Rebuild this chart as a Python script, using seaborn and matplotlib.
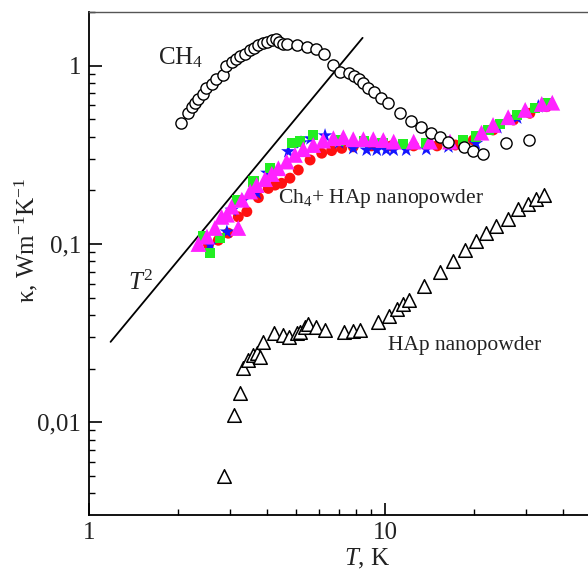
import numpy as np
import matplotlib
matplotlib.use("Agg")
import matplotlib.pyplot as plt
from matplotlib.ticker import FixedLocator, FuncFormatter, LogLocator, NullFormatter
import seaborn as sns

# CH4 (open circles)
t_ch4 = [2.04, 2.15, 2.22, 2.28, 2.34, 2.42, 2.49, 2.59, 2.68, 2.83,
         2.89, 3.03, 3.13, 3.23, 3.36, 3.49, 3.61, 3.73, 3.86, 3.98,
         4.14, 4.28, 4.39, 4.51, 4.65, 5.03, 5.44, 5.83, 6.23, 6.69,
         7.04, 7.57, 7.86, 8.19, 8.45, 8.78, 9.18, 9.69, 10.2, 11.2,
         12.2, 13.2, 14.3, 15.3, 16.3, 18.5, 19.9, 21.4, 25.6, 30.8]
k_ch4 = [0.479, 0.545, 0.589, 0.620, 0.648, 0.691, 0.747, 0.787, 0.839, 0.887,
         0.996, 1.05, 1.09, 1.13, 1.17, 1.22, 1.26, 1.30, 1.34, 1.36,
         1.39, 1.41, 1.35, 1.32, 1.32, 1.31, 1.28, 1.24, 1.16, 1.01,
         0.925, 0.913, 0.876, 0.839, 0.797, 0.753, 0.709, 0.656, 0.615, 0.545,
         0.492, 0.451, 0.418, 0.397, 0.372, 0.351, 0.334, 0.320, 0.367, 0.383]

# HAp nanopowder (open triangles)
t_hap = [2.86, 3.09, 3.24, 3.32, 3.43, 3.59, 3.68, 3.78, 3.88, 4.21,
         4.53, 4.73, 5.03, 5.16, 5.36, 5.50, 5.84, 6.27, 7.28, 7.78,
         8.23, 9.49, 10.3, 11.0, 11.5, 12.1, 13.5, 15.3, 17.0, 18.7,
         20.3, 21.9, 23.7, 26.0, 28.2, 30.5, 32.4, 34.6]
k_hap = [0.0050, 0.0110, 0.0147, 0.0201, 0.0224, 0.0238, 0.0246, 0.0232, 0.0282, 0.0316,
         0.0309, 0.0300, 0.0318, 0.0322, 0.0344, 0.0355, 0.0344, 0.0330, 0.0322, 0.0327,
         0.0330, 0.0367, 0.0396, 0.0430, 0.0459, 0.0485, 0.0581, 0.0699, 0.0806, 0.0925,
         0.104, 0.115, 0.126, 0.138, 0.157, 0.168, 0.178, 0.188]

# CH4 + HAp nanopowder, four runs
t_red = [2.53, 2.73, 2.95, 3.19, 3.41, 3.73, 4.03, 4.25, 4.47, 4.77,
         5.09, 5.58, 6.11, 6.60, 7.14, 7.81, 9.0, 10.5, 12.5, 15.0,
         17.3, 19.9, 23.2, 27.2, 30.9, 35.2]
k_red = [0.099, 0.105, 0.115, 0.142, 0.152, 0.182, 0.205, 0.214, 0.219, 0.234,
         0.260, 0.296, 0.323, 0.334, 0.344, 0.351, 0.355, 0.355, 0.355, 0.355,
         0.359, 0.383, 0.436, 0.496, 0.541, 0.589]

t_blue = [2.56, 2.92, 3.03, 3.30, 3.68, 4.00, 4.71, 5.20, 5.60, 6.27,
          7.00, 7.81, 8.67, 9.38, 10.1, 10.7, 11.8, 13.8, 16.4, 20.3,
          24.0, 28.0, 33.0]
k_blue = [0.099, 0.117, 0.155, 0.175, 0.193, 0.25, 0.330, 0.37, 0.39, 0.405,
          0.37, 0.344, 0.337, 0.337, 0.337, 0.337, 0.337, 0.340, 0.351, 0.367,
          0.45, 0.51, 0.59]

t_green = [2.43, 2.56, 2.77, 3.15, 3.59, 4.08, 4.84, 5.16, 5.72, 7.0,
           8.5, 9.8, 11.5, 13.8, 18.4, 20.3, 22.4, 24.5, 27.9, 32.2, 35.2]
k_green = [0.110, 0.089, 0.108, 0.177, 0.224, 0.266, 0.367, 0.375, 0.409, 0.38,
           0.375, 0.37, 0.364, 0.367, 0.383, 0.400, 0.436, 0.471, 0.529, 0.577, 0.615]

t_mag = [2.34, 2.50, 2.66, 2.80, 2.92, 3.03, 3.19, 3.28, 3.50, 3.68,
         3.93, 4.14, 4.36, 4.65, 4.96, 5.29, 5.72, 6.18, 6.69, 7.23,
         7.81, 8.45, 9.13, 9.87, 10.7, 12.5, 14.2, 16.6, 21.2, 23.2,
         26.1, 29.8, 33.9, 36.8]
k_mag = [0.100, 0.110, 0.123, 0.142, 0.146, 0.162, 0.123, 0.177, 0.197, 0.214,
         0.231, 0.247, 0.266, 0.290, 0.316, 0.340, 0.359, 0.380, 0.392, 0.397,
         0.387, 0.387, 0.387, 0.383, 0.375, 0.375, 0.375, 0.375, 0.421, 0.465,
         0.514, 0.565, 0.610, 0.620]

# T^2 guide line
t_line = np.array([1.18, 8.4])
k_line = 0.0203 * t_line ** 2

sns.set_style("ticks")
plt.rcParams['font.family'] = ['Liberation Serif', 'DejaVu Serif']
plt.rcParams['mathtext.fontset'] = 'custom'
plt.rcParams['mathtext.rm'] = 'Liberation Serif'
plt.rcParams['mathtext.it'] = 'Liberation Serif:italic'

fig = plt.figure(figsize=(5.88, 5.71), dpi=100)
ax = fig.add_axes([0.1519, 0.0975, 0.8481, 0.8815])

ax.plot(t_line, k_line, color='black', lw=1.3, zorder=2)

sns.scatterplot(x=t_red, y=k_red, ax=ax, marker='o', s=62, color='#ff1010',
                edgecolor='none', zorder=3)
sns.scatterplot(x=t_blue, y=k_blue, ax=ax, marker='*', s=120, color='#1515ff',
                edgecolor='none', zorder=4)
sns.scatterplot(x=t_green, y=k_green, ax=ax, marker='s', s=55, color='#22ee22',
                edgecolor='none', zorder=5)
sns.scatterplot(x=t_mag, y=k_mag, ax=ax, marker='^', s=130, color='#ff22ff',
                edgecolor='none', zorder=6)
sns.scatterplot(x=t_ch4, y=k_ch4, ax=ax, marker='o', s=65, facecolor='white',
                edgecolor='black', linewidth=1.0, zorder=7)
sns.scatterplot(x=t_hap, y=k_hap, ax=ax, marker='^', s=95, facecolor='white',
                edgecolor='black', linewidth=1.1, zorder=7)

ax.set_xscale('log')
ax.set_yscale('log')
ax.set_xlim(1, 48.6)
ax.set_ylim(0.00301, 2.0)

ax.xaxis.set_major_locator(FixedLocator([1, 10]))
ax.xaxis.set_major_formatter(FuncFormatter(lambda v, p: f"{v:g}"))
ax.xaxis.set_minor_locator(LogLocator(base=10, subs=np.arange(2, 10)))
ax.xaxis.set_minor_formatter(NullFormatter())
ax.yaxis.set_major_locator(FixedLocator([0.01, 0.1, 1]))
ax.yaxis.set_major_formatter(FuncFormatter(lambda v, p: f"{v:g}".replace('.', ',')))
ax.yaxis.set_minor_locator(LogLocator(base=10, subs=np.arange(2, 10)))
ax.yaxis.set_minor_formatter(NullFormatter())

ax.tick_params(which='both', direction='in', top=False, right=False,
               colors='black', labelcolor='#222222', labelsize=18)
ax.tick_params(which='major', length=9, width=1.2, pad=6)
ax.tick_params(which='minor', length=4.5, width=1.0)
ax.tick_params(axis='x', which='major', pad=5)

for side in ['left', 'bottom']:
    ax.spines[side].set_linewidth(1.3)
    ax.spines[side].set_color('black')
ax.spines['top'].set_linewidth(1.0)
ax.spines['top'].set_color('#555555')
ax.spines['right'].set_visible(False)

ax.set_xlabel(r"$T$, K", fontsize=18, color='#222222')
ax.xaxis.set_label_coords(0.557, -0.062)
ax.set_ylabel(r"κ, Wm$^{-1}$K$^{-1}$", fontsize=18, color='#222222')
ax.yaxis.set_label_coords(-0.099, 0.547)

ax.text(1.71, 1.105, r"CH$_4$", fontsize=18, color='#222222', ha='left', va='center')
ax.text(4.35, 0.179, r"Ch$_4$+ HAp nanopowder", fontsize=15.5, color='#222222',
        ha='left', va='center')
ax.text(10.24, 0.0271, "HAp nanopowder", fontsize=15.5, color='#222222',
        ha='left', va='center')
ax.text(1.352, 0.0604, r"$T^2$", fontsize=18, color='#222222', ha='left', va='center')

fig.savefig('out.png', dpi=100)
